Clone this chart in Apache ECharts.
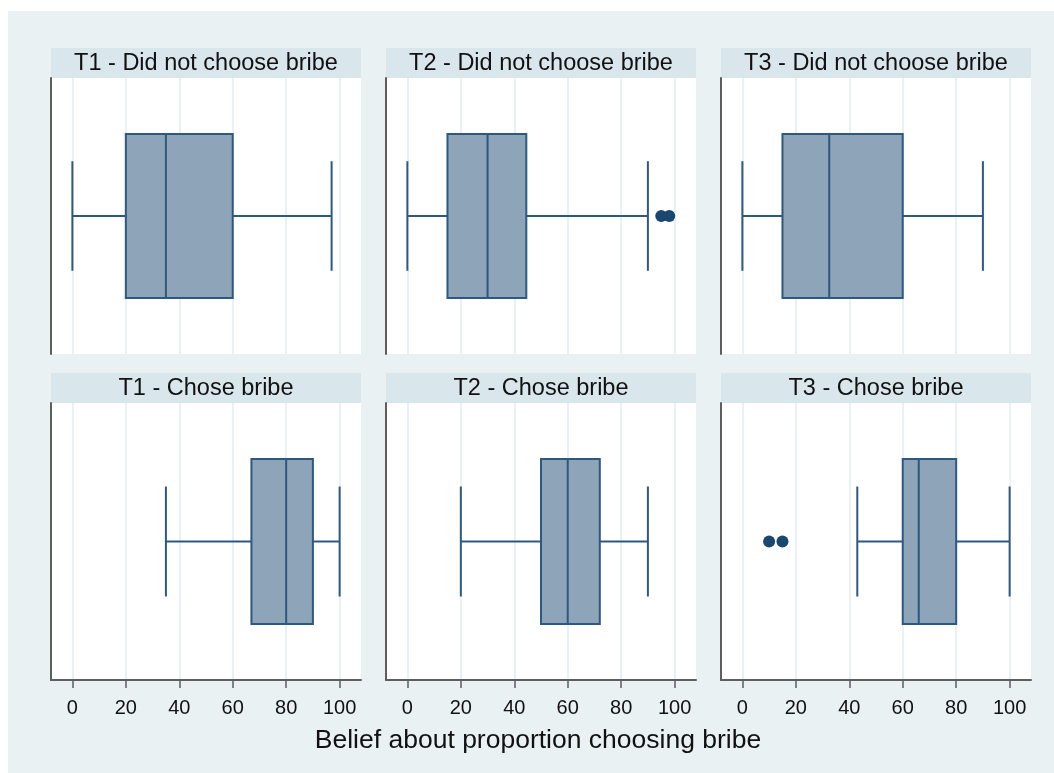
<!DOCTYPE html>
<html>
<head>
<meta charset="utf-8">
<script src="https://cdn.jsdelivr.net/npm/echarts@6/dist/echarts.min.js"></script>
<style>
  html, body { margin: 0; padding: 0; background: #ffffff; }
  #chart { width: 1054px; height: 773px; }
</style>
</head>
<body>
<div id="chart"></div>
<script>
// Panel headings (row-major: top row = did not choose bribe, bottom row = chose bribe)
const panelTitles = [
  'T1 - Did not choose bribe', 'T2 - Did not choose bribe', 'T3 - Did not choose bribe',
  'T1 - Chose bribe', 'T2 - Chose bribe', 'T3 - Chose bribe'
];

// Five-number summaries: [lower whisker, Q1, median, Q3, upper whisker]
const t1NotChose = [0, 20, 35, 60, 97];
const t2NotChose = [0, 15, 30, 44.5, 90];
const t3NotChose = [0, 15, 32.5, 60, 90];
const t1Chose = [35, 67, 80, 90, 100];
const t2Chose = [20, 50, 60, 72, 90];
const t3Chose = [43, 60, 66, 80, 100];

// Outside values
const t1NotChoseOut = [];
const t2NotChoseOut = [95, 98];
const t3NotChoseOut = [];
const t1ChoseOut = [];
const t2ChoseOut = [];
const t3ChoseOut = [10, 15];

const xTicks = [0, 20, 40, 60, 80, 100];
const xTitle = 'Belief about proportion choosing bribe';

const boxes = [t1NotChose, t2NotChose, t3NotChose, t1Chose, t2Chose, t3Chose];
const outliers = [t1NotChoseOut, t2NotChoseOut, t3NotChoseOut, t1ChoseOut, t2ChoseOut, t3ChoseOut];

const FONT = '"Liberation Sans", Arial, sans-serif';
const NAVY = '#1a476f';
const LINE = '#2d5880';
const FILL = '#8ea4b9';
const AXIS = '#5e5e5e';
const GRIDLINE = '#eaf1f4';

// Panel geometry
const colLeft = [51, 386, 721];
const panelW = 310;
const rows = [
  { stripTop: 48, top: 78, height: 276 },
  { stripTop: 373, top: 403, height: 277 }
];
const stripH = 30;

const chart = echarts.init(document.getElementById('chart'), null, { renderer: 'canvas' });

const grids = [], xAxes = [], yAxes = [], series = [], graphics = [];

graphics.push({
  type: 'rect', z: -10, silent: true,
  shape: { x: 8, y: 11, width: 1046, height: 762 },
  style: { fill: '#e9f1f3' }
});

function renderBox(params, api) {
  const lo = api.value(0), q1 = api.value(1), med = api.value(2), q3 = api.value(3), hi = api.value(4);
  const cat = api.value(5);
  const band = api.size([0, 1])[1];
  const yc = api.coord([q1, cat])[1];
  const bh = band * 0.595 / 2;
  const ch = band * 0.397 / 2;
  const x = v => api.coord([v, cat])[0];
  const stroke = { stroke: LINE, lineWidth: 2, fill: null };
  return {
    type: 'group',
    children: [
      { type: 'line', shape: { x1: x(lo), y1: yc, x2: x(q1), y2: yc }, style: stroke },
      { type: 'line', shape: { x1: x(q3), y1: yc, x2: x(hi), y2: yc }, style: stroke },
      { type: 'line', shape: { x1: x(lo), y1: yc - ch, x2: x(lo), y2: yc + ch }, style: stroke },
      { type: 'line', shape: { x1: x(hi), y1: yc - ch, x2: x(hi), y2: yc + ch }, style: stroke },
      { type: 'rect', shape: { x: x(q1), y: yc - bh, width: x(q3) - x(q1), height: 2 * bh },
        style: { fill: FILL, stroke: LINE, lineWidth: 2 } },
      { type: 'line', shape: { x1: x(med), y1: yc - bh, x2: x(med), y2: yc + bh }, style: stroke }
    ]
  };
}

for (let i = 0; i < 6; i++) {
  const r = Math.floor(i / 3), c = i % 3;
  const row = rows[r];
  const bottomRow = r === 1;

  grids.push({
    left: colLeft[c], top: row.top, width: panelW, height: row.height,
    show: true, backgroundColor: '#ffffff', borderWidth: 0, containLabel: false
  });

  xAxes.push({
    type: 'value', gridIndex: i, min: -8, max: 108,
    axisLine: { show: bottomRow, onZero: false, lineStyle: { color: AXIS, width: 2 } },
    axisTick: { show: bottomRow, customValues: xTicks, length: 8, lineStyle: { color: AXIS, width: 1.5 } },
    axisLabel: { show: bottomRow, customValues: xTicks, margin: 18, fontSize: 20, color: '#111', fontFamily: FONT },
    splitLine: { show: true, lineStyle: { color: GRIDLINE, width: 2 } }
  });

  yAxes.push({
    type: 'category', gridIndex: i, data: ['g'], position: 'left',
    axisLine: { show: true, onZero: false, lineStyle: { color: AXIS, width: 2 } },
    axisTick: { show: false }, axisLabel: { show: false }, splitLine: { show: false }
  });

  series.push({
    type: 'custom', xAxisIndex: i, yAxisIndex: i,
    renderItem: renderBox,
    encode: { x: [0, 1, 2, 3, 4], y: 5 },
    data: [boxes[i].concat([0])],
    silent: true, z: 3
  });

  if (outliers[i].length) {
    series.push({
      type: 'scatter', xAxisIndex: i, yAxisIndex: i,
      symbol: 'circle', symbolSize: 12,
      itemStyle: { color: NAVY, opacity: 1 },
      data: outliers[i].map(v => [v, 0]),
      silent: true, z: 4
    });
  }

  graphics.push({
    type: 'rect', silent: true,
    shape: { x: colLeft[c], y: row.stripTop, width: panelW, height: stripH },
    style: { fill: '#d9e6ec' }
  });
  graphics.push({
    type: 'text', silent: true,
    x: colLeft[c] + panelW / 2, y: row.stripTop + stripH / 2 + 1,
    style: { text: panelTitles[i], fill: '#111', font: '23.5px ' + FONT, align: 'center', verticalAlign: 'middle' }
  });
}

graphics.push({
  type: 'text', silent: true,
  x: 538, y: 741,
  style: { text: xTitle, fill: '#111', font: '26.5px ' + FONT, align: 'center', verticalAlign: 'middle' }
});

chart.setOption({
  backgroundColor: '#ffffff',
  animation: false,
  grid: grids,
  xAxis: xAxes,
  yAxis: yAxes,
  series: series,
  graphic: graphics
});
</script>
</body>
</html>
